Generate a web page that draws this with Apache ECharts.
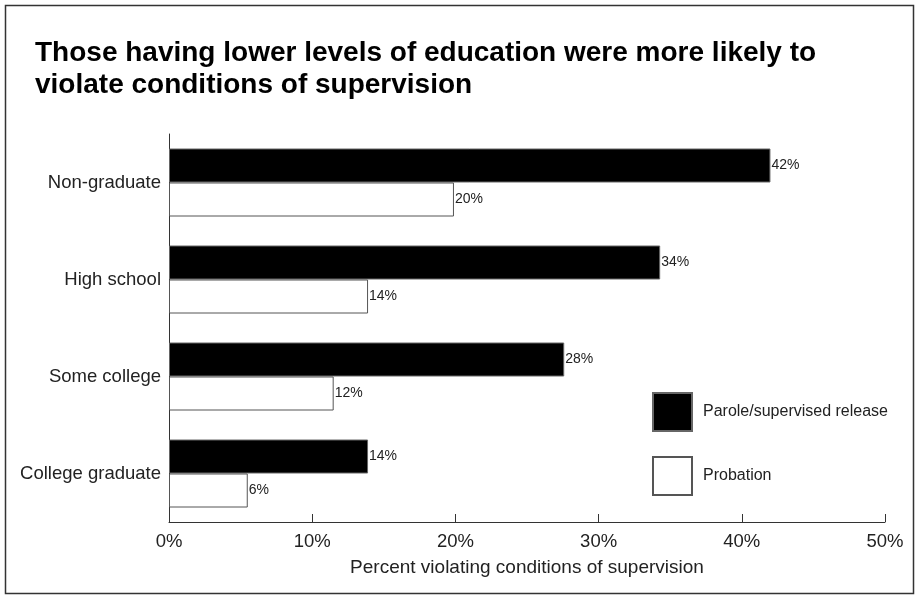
<!DOCTYPE html>
<html>
<head>
<meta charset="utf-8">
<script src="https://cdn.jsdelivr.net/npm/echarts@6/dist/echarts.min.js"></script>
<style>
  html, body { margin: 0; padding: 0; background: #fff; }
  #chart { width: 918px; height: 599px; }
</style>
</head>
<body>
<div id="chart"></div>
<script>
// Education level groups, top to bottom
const categories = ['Non-graduate', 'High school', 'Some college', 'College graduate'];
// Percent violating conditions of supervision
const paroleValues = [42.0, 34.3, 27.6, 13.9];
const probationValues = [19.9, 13.9, 11.5, 5.5];
const seriesNames = ['Parole/supervised release', 'Probation'];
const xTicks = [0, 10, 20, 30, 40, 50];

const FONT = '"Liberation Sans", Arial, Helvetica, sans-serif';
const chart = echarts.init(document.getElementById('chart'), null, { renderer: 'canvas' });

const pctLabel = {
  show: true,
  position: 'right',
  distance: 1,
  color: '#222',
  fontSize: 14,
  fontFamily: FONT,
  formatter: p => Math.round(p.value) + '%'
};

chart.setOption({
  backgroundColor: '#fff',
  animation: false,
  textStyle: { fontFamily: FONT },
  title: {
    text: 'Those having lower levels of education were more likely to\nviolate conditions of supervision',
    left: 30,
    top: 32,
    textStyle: { fontSize: 28, fontWeight: 'bold', color: '#000', lineHeight: 32, fontFamily: FONT }
  },
  graphic: [{
    type: 'rect',
    shape: { x: 5.5, y: 5.5, width: 908, height: 588 },
    style: { fill: 'none', stroke: '#333', lineWidth: 1.5 },
    silent: true
  }],
  legend: {
    orient: 'vertical',
    left: 647,
    top: 387,
    itemWidth: 39,
    itemHeight: 38,
    itemGap: 24,
    icon: 'rect',
    data: seriesNames,
    textStyle: { fontSize: 16, color: '#222', fontFamily: FONT, padding: [0, 0, 0, 6] }
  },
  grid: { left: 169, right: 33, top: 134, bottom: 77, containLabel: false },
  xAxis: {
    type: 'value',
    min: xTicks[0],
    max: xTicks[xTicks.length - 1],
    interval: 10,
    name: 'Percent violating conditions of supervision',
    nameLocation: 'middle',
    nameGap: 36,
    nameTextStyle: { fontSize: 19, color: '#222', fontFamily: FONT },
    axisLine: { show: true, lineStyle: { color: '#333', width: 1 } },
    axisTick: { show: true, inside: true, length: 8, lineStyle: { color: '#333' } },
    axisLabel: { fontSize: 18.5, color: '#222', margin: 10, formatter: '{value}%', fontFamily: FONT },
    splitLine: { show: false }
  },
  yAxis: {
    type: 'category',
    inverse: true,
    data: categories,
    axisLine: { show: true, lineStyle: { color: '#333', width: 1 } },
    axisTick: { show: false },
    axisLabel: { fontSize: 18.5, color: '#222', margin: 8, fontFamily: FONT }
  },
  series: [
    {
      name: seriesNames[0],
      type: 'bar',
      data: paroleValues,
      barWidth: 34,
      barGap: '0%',
      itemStyle: { color: '#000', borderColor: '#666', borderWidth: 1 },
      label: pctLabel
    },
    {
      name: seriesNames[1],
      type: 'bar',
      data: probationValues,
      barWidth: 34,
      barGap: '0%',
      itemStyle: { color: '#fff', borderColor: '#555', borderWidth: 1 },
      label: pctLabel
    }
  ]
});
</script>
</body>
</html>
